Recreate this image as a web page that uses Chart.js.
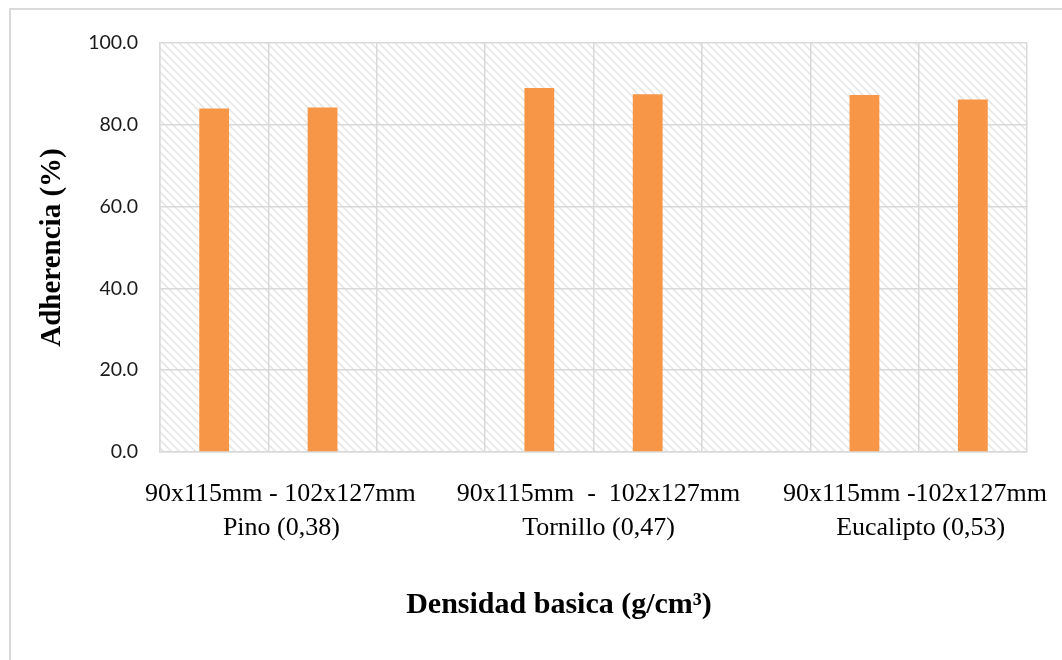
<!DOCTYPE html>
<html lang="es">
<head>
<meta charset="utf-8">
<title>Adherencia</title>
<script src="https://cdn.jsdelivr.net/npm/chart.js@4.4.1/dist/chart.umd.min.js"></script>
<style>
  html, body { margin: 0; padding: 0; background: #fff; }
  #wrap { width: 1062px; height: 660px; }
</style>
</head>
<body>
<div id="wrap"><canvas id="chart" width="1062" height="660"></canvas></div>
<script>
// slots on the x axis (empty slot between each wood)
const categories = ['Pino 90x115', 'Pino 102x127', '', 'Tornillo 90x115', 'Tornillo 102x127', '', 'Eucalipto 90x115', 'Eucalipto 102x127'];
const adherencia = [84.0, 84.2, null, 89.0, 87.5, null, 87.3, 86.2];
// group labels under the axis
const sizeLabels = ['90x115mm - 102x127mm', '90x115mm  -  102x127mm', '90x115mm -102x127mm'];
const woodLabels = ['Pino (0,38)', 'Tornillo (0,47)', 'Eucalipto (0,53)'];
const groupStart = [0, 3, 6];
const yTicks = [0, 20, 40, 60, 80, 100];

const grid = '#d9d9d9';

// light downward diagonal fill like excel
function makeHatch() {
  const c = document.createElement('canvas');
  c.width = 8; c.height = 8;
  const g = c.getContext('2d');
  g.strokeStyle = '#e4e4e4';
  g.lineWidth = 1.5;
  g.beginPath();
  g.moveTo(-2, -2); g.lineTo(10, 10);
  g.moveTo(-2, 6); g.lineTo(2, 10);
  g.moveTo(6, -2); g.lineTo(10, 2);
  g.stroke();
  return c;
}

const decor = {
  id: 'decor',
  beforeDraw(chart) {
    const ctx = chart.ctx, a = chart.chartArea;
    ctx.save();
    ctx.fillStyle = '#fff';
    ctx.fillRect(0, 0, chart.width, chart.height);
    ctx.strokeStyle = grid;
    ctx.lineWidth = 2;
    ctx.strokeRect(10, 9, 2000, 2000);
    ctx.fillStyle = ctx.createPattern(makeHatch(), 'repeat');
    ctx.fillRect(a.left, a.top, a.right - a.left, a.bottom - a.top);
    ctx.restore();
  },
  afterDraw(chart) {
    const ctx = chart.ctx, x = chart.scales.x;
    const nudge1 = [12, 5, 0];
    const nudge2 = [13, 5, 2];
    ctx.save();
    ctx.fillStyle = '#000';
    ctx.textAlign = 'center';
    ctx.textBaseline = 'alphabetic';
    ctx.font = '26px "Liberation Serif", "Times New Roman", serif';
    groupStart.forEach((s, i) => {
      const mid = x.getPixelForValue(s + 0.5);
      let cx = mid + nudge1[i];
      const w = ctx.measureText(sizeLabels[i]).width;
      if (cx + w / 2 > chart.width - 15) cx = chart.width - 15 - w / 2;
      ctx.fillText(sizeLabels[i], cx, 501);
      ctx.fillText(woodLabels[i], mid + nudge2[i], 535);
    });
    ctx.font = 'bold 30px "Liberation Serif", "Times New Roman", serif';
    ctx.fillText('Densidad basica (g/cm³)', 559, 613);
    ctx.font = 'bold 29px "Liberation Serif", "Times New Roman", serif';
    ctx.translate(53, (chart.chartArea.top + chart.chartArea.bottom) / 2);
    ctx.rotate(-Math.PI / 2);
    ctx.textBaseline = 'middle';
    ctx.fillText('Adherencia (%)', 0, 0);
    ctx.restore();
  }
};

new Chart(document.getElementById('chart'), {
  type: 'bar',
  data: {
    labels: categories,
    datasets: [{
      data: adherencia,
      backgroundColor: '#F79646',
      borderWidth: 0,
      barPercentage: 0.275,
      categoryPercentage: 1
    }]
  },
  options: {
    responsive: false,
    animation: false,
    devicePixelRatio: 1,
    layout: { padding: { left: 0, top: 43, right: 35, bottom: 0 } },
    plugins: { legend: { display: false }, tooltip: { enabled: false } },
    scales: {
      x: {
        grid: { color: grid, lineWidth: 1.5, drawTicks: false },
        border: { color: grid, width: 1.5 },
        ticks: { display: false },
        afterFit(s) { s.height = 208; }
      },
      y: {
        min: 0,
        max: 100,
        afterBuildTicks(s) { s.ticks = yTicks.map(v => ({ value: v })); },
        grid: { color: grid, lineWidth: 1.5, drawTicks: false },
        border: { color: grid, width: 1.5 },
        ticks: {
          padding: 22,
          color: '#1a1a1a',
          font: { family: 'Lato', size: 19.5 },
          callback: v => v.toFixed(1)
        },
        afterFit(s) { s.width = 160; }
      }
    }
  },
  plugins: [decor]
});
</script>
</body>
</html>
